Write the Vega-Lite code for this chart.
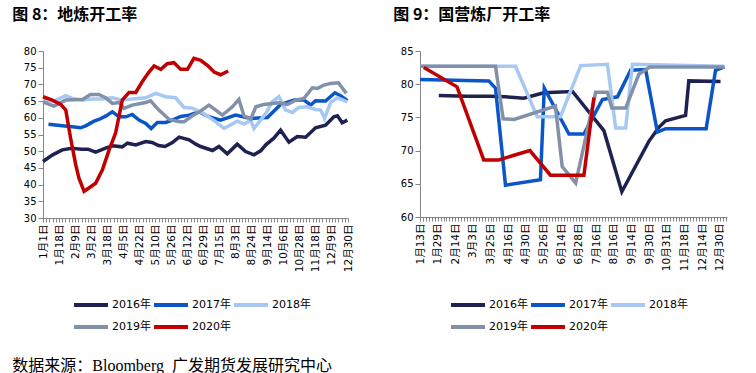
{
  "$schema": "https://vega.github.io/schema/vega-lite/v6.json",
  "padding": {"left": 12, "top": 7, "right": 4, "bottom": 2},
  "bounds": "flush",
  "spacing": 72,
  "title": {
    "text": "数据来源：Bloomberg\u00a0\u00a0广发期货发展研究中心",
    "orient": "bottom",
    "anchor": "start",
    "font": "Liberation Serif, Noto Sans CJK SC",
    "fontSize": 16,
    "fontWeight": "normal",
    "color": "#000000",
    "offset": 23
  },
  "config": {
    "view": {"stroke": null},
    "font": "DejaVu Sans, Noto Sans CJK SC",
    "axis": {
      "grid": false,
      "domainColor": "#868686",
      "tickColor": "#868686",
      "labelColor": "#000000",
      "labelFont": "DejaVu Sans, Noto Sans CJK SC",
      "title": null
    },
    "legend": {
      "direction": "horizontal",
      "columns": 3,
      "title": null,
      "symbolType": "M-3,0H3",
      "symbolStrokeWidth": 4,
      "symbolSize": 128,
      "labelFontSize": 11,
      "labelFont": "DejaVu Sans, Noto Sans CJK SC",
      "labelColor": "#000000",
      "labelOffset": 13,
      "columnPadding": -5,
      "rowPadding": 6
    },
    "title": {
      "anchor": "start",
      "font": "Noto Sans CJK SC",
      "fontSize": 16,
      "fontWeight": "bold",
      "color": "#000000"
    }
  },
  "resolve": {
    "scale": {"x": "independent", "y": "independent", "color": "independent"},
    "legend": {"color": "independent"}
  },
  "datasets": {
    "left": [
      {"year": "2016年", "i": 0, "v": 46.9}, {"year": "2016年", "i": 3, "v": 48.9}, {"year": "2016年", "i": 6, "v": 50.4}, {"year": "2016年", "i": 9, "v": 50.9}, {"year": "2016年", "i": 12, "v": 50.6}, {"year": "2016年", "i": 14, "v": 50.6}, {"year": "2016年", "i": 16.4, "v": 49.7}, {"year": "2016年", "i": 19.5, "v": 50.9}, {"year": "2016年", "i": 21.6, "v": 51.6}, {"year": "2016年", "i": 24.7, "v": 51.3}, {"year": "2016年", "i": 26.3, "v": 52.4}, {"year": "2016年", "i": 28.9, "v": 51.9}, {"year": "2016年", "i": 32, "v": 52.9}, {"year": "2016年", "i": 34, "v": 52.6}, {"year": "2016年", "i": 36, "v": 51.7}, {"year": "2016年", "i": 38, "v": 51.4}, {"year": "2016年", "i": 40.3, "v": 52.6}, {"year": "2016年", "i": 42.4, "v": 54.2}, {"year": "2016年", "i": 45.5, "v": 53.4}, {"year": "2016年", "i": 47.6, "v": 52.1}, {"year": "2016年", "i": 49.1, "v": 51.4}, {"year": "2016年", "i": 52.8, "v": 50.2}, {"year": "2016年", "i": 54.8, "v": 51.4}, {"year": "2016年", "i": 57.4, "v": 49.2}, {"year": "2016年", "i": 60.5, "v": 52.1}, {"year": "2016年", "i": 63.1, "v": 49.9}, {"year": "2016年", "i": 65.7, "v": 48.9}, {"year": "2016年", "i": 67.8, "v": 50.1}, {"year": "2016年", "i": 69.4, "v": 51.9}, {"year": "2016年", "i": 71.9, "v": 53.9}, {"year": "2016年", "i": 74, "v": 56.3}, {"year": "2016年", "i": 76.6, "v": 52.7}, {"year": "2016年", "i": 79.2, "v": 54.4}, {"year": "2016年", "i": 81.8, "v": 54.2}, {"year": "2016年", "i": 84.9, "v": 57.0}, {"year": "2016年", "i": 88, "v": 57.8}, {"year": "2016年", "i": 90.6, "v": 60.3}, {"year": "2016年", "i": 91.7, "v": 60.6}, {"year": "2016年", "i": 93.2, "v": 58.5}, {"year": "2016年", "i": 94.8, "v": 59.3},
      {"year": "2017年", "i": 1.7, "v": 58.1}, {"year": "2017年", "i": 6, "v": 57.6}, {"year": "2017年", "i": 9.1, "v": 57.3}, {"year": "2017年", "i": 11.7, "v": 57.0}, {"year": "2017年", "i": 13.3, "v": 57.6}, {"year": "2017年", "i": 15.9, "v": 59.0}, {"year": "2017年", "i": 17.4, "v": 59.5}, {"year": "2017年", "i": 19.5, "v": 60.5}, {"year": "2017年", "i": 21.6, "v": 61.8}, {"year": "2017年", "i": 23.7, "v": 60.3}, {"year": "2017年", "i": 25.8, "v": 60.3}, {"year": "2017年", "i": 27.8, "v": 61.0}, {"year": "2017年", "i": 29.9, "v": 59.3}, {"year": "2017年", "i": 32, "v": 58.3}, {"year": "2017年", "i": 33.7, "v": 56.8}, {"year": "2017年", "i": 35.6, "v": 58.6}, {"year": "2017年", "i": 38.2, "v": 58.6}, {"year": "2017年", "i": 40.3, "v": 59.3}, {"year": "2017年", "i": 42.9, "v": 60.4}, {"year": "2017年", "i": 45.5, "v": 60.8}, {"year": "2017年", "i": 48.6, "v": 61.8}, {"year": "2017年", "i": 51.7, "v": 60.3}, {"year": "2017年", "i": 55.3, "v": 59.3}, {"year": "2017年", "i": 60, "v": 60.8}, {"year": "2017年", "i": 64.7, "v": 59.8}, {"year": "2017年", "i": 69.9, "v": 60.1}, {"year": "2017年", "i": 74, "v": 64.0}, {"year": "2017年", "i": 78.2, "v": 65.3}, {"year": "2017年", "i": 81.3, "v": 65.3}, {"year": "2017年", "i": 83.4, "v": 63.8}, {"year": "2017年", "i": 84.9, "v": 65.1}, {"year": "2017年", "i": 88, "v": 65.0}, {"year": "2017年", "i": 90.9, "v": 67.5}, {"year": "2017年", "i": 92.7, "v": 66.6}, {"year": "2017年", "i": 94.8, "v": 65.1},
      {"year": "2018年", "i": 0, "v": 65.3}, {"year": "2018年", "i": 3.4, "v": 65.0}, {"year": "2018年", "i": 7.1, "v": 66.6}, {"year": "2018年", "i": 9.1, "v": 65.8}, {"year": "2018年", "i": 12.3, "v": 65.3}, {"year": "2018年", "i": 15.4, "v": 65.6}, {"year": "2018年", "i": 18.5, "v": 65.6}, {"year": "2018年", "i": 21.6, "v": 66.0}, {"year": "2018年", "i": 24.7, "v": 65.3}, {"year": "2018年", "i": 27.8, "v": 65.6}, {"year": "2018年", "i": 32, "v": 66.0}, {"year": "2018年", "i": 35.1, "v": 67.3}, {"year": "2018年", "i": 38.2, "v": 66.3}, {"year": "2018年", "i": 41.3, "v": 66.0}, {"year": "2018年", "i": 43.9, "v": 63.1}, {"year": "2018年", "i": 46.5, "v": 62.9}, {"year": "2018年", "i": 50.1, "v": 61.3}, {"year": "2018年", "i": 53.8, "v": 58.8}, {"year": "2018年", "i": 56.4, "v": 56.8}, {"year": "2018年", "i": 60.5, "v": 59.0}, {"year": "2018年", "i": 62.6, "v": 58.1}, {"year": "2018年", "i": 64.7, "v": 59.3}, {"year": "2018年", "i": 65.7, "v": 56.8}, {"year": "2018年", "i": 69.4, "v": 61.3}, {"year": "2018年", "i": 71.4, "v": 64.8}, {"year": "2018年", "i": 73.5, "v": 66.3}, {"year": "2018年", "i": 75.6, "v": 62.3}, {"year": "2018年", "i": 77.7, "v": 61.6}, {"year": "2018年", "i": 79.7, "v": 63.1}, {"year": "2018年", "i": 82.3, "v": 63.3}, {"year": "2018年", "i": 84.9, "v": 62.5}, {"year": "2018年", "i": 86.5, "v": 62.3}, {"year": "2018年", "i": 87.7, "v": 59.8}, {"year": "2018年", "i": 89.6, "v": 64.6}, {"year": "2018年", "i": 91.7, "v": 66.0}, {"year": "2018年", "i": 94.8, "v": 64.8},
      {"year": "2019年", "i": 0, "v": 64.8}, {"year": "2019年", "i": 3.4, "v": 63.5}, {"year": "2019年", "i": 7.1, "v": 65.3}, {"year": "2019年", "i": 12.3, "v": 65.5}, {"year": "2019年", "i": 14.8, "v": 67.0}, {"year": "2019年", "i": 17.4, "v": 67.0}, {"year": "2019年", "i": 19.5, "v": 66.0}, {"year": "2019年", "i": 21.6, "v": 64.3}, {"year": "2019年", "i": 23.7, "v": 64.6}, {"year": "2019年", "i": 25.2, "v": 62.8}, {"year": "2019年", "i": 27.8, "v": 63.8}, {"year": "2019年", "i": 32, "v": 64.6}, {"year": "2019年", "i": 33.5, "v": 65.1}, {"year": "2019年", "i": 36.1, "v": 62.3}, {"year": "2019年", "i": 39.3, "v": 59.5}, {"year": "2019年", "i": 42.4, "v": 58.8}, {"year": "2019年", "i": 43.9, "v": 58.8}, {"year": "2019年", "i": 46.5, "v": 60.6}, {"year": "2019年", "i": 48.6, "v": 61.7}, {"year": "2019年", "i": 51.7, "v": 63.8}, {"year": "2019年", "i": 55.9, "v": 60.8}, {"year": "2019年", "i": 59, "v": 63.3}, {"year": "2019年", "i": 61, "v": 65.5}, {"year": "2019年", "i": 62.6, "v": 60.6}, {"year": "2019年", "i": 64.7, "v": 59.6}, {"year": "2019年", "i": 66.3, "v": 63.3}, {"year": "2019年", "i": 68.8, "v": 64.0}, {"year": "2019年", "i": 71.4, "v": 64.3}, {"year": "2019年", "i": 73.5, "v": 64.5}, {"year": "2019年", "i": 76.1, "v": 64.0}, {"year": "2019年", "i": 78.7, "v": 65.3}, {"year": "2019年", "i": 81.3, "v": 65.8}, {"year": "2019年", "i": 83.9, "v": 69.0}, {"year": "2019年", "i": 85.5, "v": 68.8}, {"year": "2019年", "i": 87.5, "v": 69.8}, {"year": "2019年", "i": 89.6, "v": 70.3}, {"year": "2019年", "i": 92, "v": 70.5}, {"year": "2019年", "i": 94.5, "v": 67.3},
      {"year": "2020年", "i": 0, "v": 66.3}, {"year": "2020年", "i": 2.9, "v": 65.3}, {"year": "2020年", "i": 5.5, "v": 64.0}, {"year": "2020年", "i": 7.1, "v": 62.3}, {"year": "2020年", "i": 8.6, "v": 53.9}, {"year": "2020年", "i": 10.2, "v": 45.9}, {"year": "2020年", "i": 11.2, "v": 41.9}, {"year": "2020年", "i": 12.8, "v": 38.0}, {"year": "2020年", "i": 14.3, "v": 39.0}, {"year": "2020年", "i": 16.4, "v": 40.4}, {"year": "2020年", "i": 18.5, "v": 44.4}, {"year": "2020年", "i": 20.6, "v": 50.4}, {"year": "2020年", "i": 22.6, "v": 55.4}, {"year": "2020年", "i": 24.7, "v": 65.3}, {"year": "2020年", "i": 26.8, "v": 67.6}, {"year": "2020年", "i": 28.9, "v": 67.6}, {"year": "2020年", "i": 30.9, "v": 70.8}, {"year": "2020年", "i": 33, "v": 73.7}, {"year": "2020年", "i": 34.6, "v": 75.5}, {"year": "2020年", "i": 36.7, "v": 74.5}, {"year": "2020年", "i": 38.7, "v": 76.2}, {"year": "2020年", "i": 40.8, "v": 76.5}, {"year": "2020年", "i": 42.9, "v": 74.5}, {"year": "2020年", "i": 45, "v": 74.5}, {"year": "2020年", "i": 47, "v": 77.8}, {"year": "2020年", "i": 49.1, "v": 77.2}, {"year": "2020年", "i": 51.2, "v": 75.7}, {"year": "2020年", "i": 53.3, "v": 73.7}, {"year": "2020年", "i": 55.3, "v": 72.9}, {"year": "2020年", "i": 57.7, "v": 74.0}
    ],
    "right": [
      {"year": "2016年", "i": 6.4, "v": 78.3}, {"year": "2016年", "i": 16, "v": 78.2}, {"year": "2016年", "i": 23.9, "v": 78.2}, {"year": "2016年", "i": 29.1, "v": 78.1}, {"year": "2016年", "i": 35.3, "v": 77.9}, {"year": "2016年", "i": 38.7, "v": 78.3}, {"year": "2016年", "i": 42.1, "v": 78.7}, {"year": "2016年", "i": 51.9, "v": 78.9}, {"year": "2016年", "i": 62.6, "v": 73.0}, {"year": "2016年", "i": 68.7, "v": 63.8}, {"year": "2016年", "i": 77.9, "v": 71.4}, {"year": "2016年", "i": 81.3, "v": 73.5}, {"year": "2016年", "i": 83.6, "v": 74.5}, {"year": "2016年", "i": 90.4, "v": 75.3}, {"year": "2016年", "i": 91.5, "v": 80.5}, {"year": "2016年", "i": 102.3, "v": 80.4},
      {"year": "2017年", "i": 0, "v": 80.7}, {"year": "2017年", "i": 23.4, "v": 80.5}, {"year": "2017年", "i": 25.7, "v": 79.4}, {"year": "2017年", "i": 29.1, "v": 64.8}, {"year": "2017年", "i": 41, "v": 65.6}, {"year": "2017年", "i": 42.3, "v": 79.4}, {"year": "2017年", "i": 50.7, "v": 72.5}, {"year": "2017年", "i": 55.8, "v": 72.5}, {"year": "2017年", "i": 62.1, "v": 77.7}, {"year": "2017年", "i": 67.2, "v": 78.1}, {"year": "2017年", "i": 71.7, "v": 82.1}, {"year": "2017年", "i": 76.8, "v": 82.2}, {"year": "2017年", "i": 80.8, "v": 72.8}, {"year": "2017年", "i": 83.6, "v": 73.3}, {"year": "2017年", "i": 97.4, "v": 73.3}, {"year": "2017年", "i": 100.6, "v": 82.1}, {"year": "2017年", "i": 103.6, "v": 82.6},
      {"year": "2018年", "i": 0, "v": 82.7}, {"year": "2018年", "i": 32.5, "v": 82.7}, {"year": "2018年", "i": 39.9, "v": 75.1}, {"year": "2018年", "i": 47.8, "v": 75.1}, {"year": "2018年", "i": 54.7, "v": 82.8}, {"year": "2018年", "i": 63.8, "v": 83.0}, {"year": "2018年", "i": 66.6, "v": 73.4}, {"year": "2018年", "i": 70, "v": 73.4}, {"year": "2018年", "i": 72.3, "v": 83.0}, {"year": "2018年", "i": 103.6, "v": 82.7},
      {"year": "2019年", "i": 0, "v": 82.7}, {"year": "2019年", "i": 25.7, "v": 82.7}, {"year": "2019年", "i": 28.3, "v": 74.8}, {"year": "2019年", "i": 32, "v": 74.7}, {"year": "2019年", "i": 46.1, "v": 76.7}, {"year": "2019年", "i": 48.4, "v": 67.6}, {"year": "2019年", "i": 53, "v": 65.1}, {"year": "2019年", "i": 59.8, "v": 78.8}, {"year": "2019年", "i": 63.8, "v": 78.8}, {"year": "2019年", "i": 65.3, "v": 76.4}, {"year": "2019年", "i": 70, "v": 76.4}, {"year": "2019年", "i": 74.5, "v": 81.5}, {"year": "2019年", "i": 78.2, "v": 82.6}, {"year": "2019年", "i": 103.6, "v": 82.6},
      {"year": "2020年", "i": 1.3, "v": 82.5}, {"year": "2020年", "i": 12.6, "v": 79.6}, {"year": "2020年", "i": 21.7, "v": 68.6}, {"year": "2020年", "i": 26.8, "v": 68.6}, {"year": "2020年", "i": 32, "v": 69.3}, {"year": "2020年", "i": 37.4, "v": 70.0}, {"year": "2020年", "i": 44.4, "v": 66.3}, {"year": "2020年", "i": 55.8, "v": 66.3}, {"year": "2020年", "i": 59.2, "v": 78.0}
    ]
  },
  "hconcat": [
    {
      "width": 305,
      "height": 167,
      "title": {"text": "图 8：地炼开工率", "dx": -11, "offset": 23},
      "data": {"name": "left"},
      "mark": {"type": "line", "strokeWidth": 3.5},
      "encoding": {
        "x": {
          "field": "i",
          "type": "quantitative",
          "scale": {"domain": [0, 95], "nice": false, "zero": false},
          "axis": {
            "tickCount": 95,
            "tickSize": 4,
            "labelAngle": -90,
            "labelFontSize": 10.5,
            "labelPadding": 2,
            "labelOverlap": false,
            "labelFlush": false,
            "labelBound": false,
            "labelExpr": "datum.value % 5 == 0 ? ['1月1日','1月18日','2月9日','3月2日','3月18日','4月5日','4月22日','5月10日','5月26日','6月12日','6月29日','7月15日','8月3日','8月24日','9月14日','10月6日','10月28日','11月18日','12月9日','12月30日'][datum.value / 5] : ''"
          }
        },
        "y": {
          "field": "v",
          "type": "quantitative",
          "scale": {"domain": [30, 80], "nice": false, "zero": false},
          "axis": {"values": [30, 35, 40, 45, 50, 55, 60, 65, 70, 75, 80], "tickSize": 5, "labelFontSize": 10, "labelPadding": 2}
        },
        "color": {
          "field": "year",
          "type": "nominal",
          "scale": {"domain": ["2016年", "2017年", "2018年", "2019年", "2020年"], "range": ["#1F2251", "#0A55C8", "#A7C8F2", "#8391A8", "#C00000"]},
          "legend": {"orient": "none", "legendX": 40, "legendY": 246}
        }
      }
    },
    {
      "width": 307,
      "height": 166,
      "title": {"text": "图 9：国营炼厂开工率", "dx": -7, "offset": 23},
      "data": {"name": "right"},
      "mark": {"type": "line", "strokeWidth": 3.5},
      "encoding": {
        "x": {
          "field": "i",
          "type": "quantitative",
          "scale": {"domain": [0, 104.5], "nice": false, "zero": false},
          "axis": {
            "values": [0,1,2,3,4,5,6,7,8,9,10,11,12,13,14,15,16,17,18,19,20,21,22,23,24,25,26,27,28,29,30,31,32,33,34,35,36,37,38,39,40,41,42,43,44,45,46,47,48,49,50,51,52,53,54,55,56,57,58,59,60,61,62,63,64,65,66,67,68,69,70,71,72,73,74,75,76,77,78,79,80,81,82,83,84,85,86,87,88,89,90,91,92,93,94,95,96,97,98,99,100,101,102,103,104],
            "tickSize": 4,
            "labelAngle": -90,
            "labelFontSize": 10.5,
            "labelPadding": 2,
            "labelOverlap": false,
            "labelFlush": false,
            "labelBound": false,
            "labelExpr": "datum.value % 6 == 0 ? ['1月13日','1月29日','2月14日','3月3日','3月25日','4月16日','4月30日','5月26日','6月14日','6月28日','7月16日','8月16日','9月14日','9月30日','10月31日','11月18日','12月14日','12月30日'][datum.value / 6] : ''"
          }
        },
        "y": {
          "field": "v",
          "type": "quantitative",
          "scale": {"domain": [60, 85], "nice": false, "zero": false},
          "axis": {"values": [60, 65, 70, 75, 80, 85], "tickSize": 5, "labelFontSize": 10, "labelPadding": 2}
        },
        "color": {
          "field": "year",
          "type": "nominal",
          "scale": {"domain": ["2016年", "2017年", "2018年", "2019年", "2020年"], "range": ["#1F2251", "#0A55C8", "#A7C8F2", "#8391A8", "#C00000"]},
          "legend": {"orient": "none", "legendX": 40, "legendY": 246}
        }
      }
    }
  ]
}
